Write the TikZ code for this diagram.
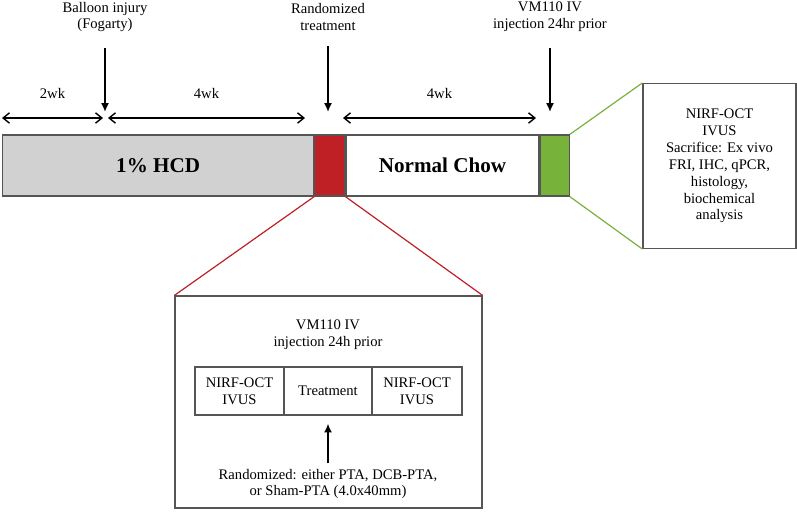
\documentclass[tikz,border=0pt]{standalone}
\usepackage{fontspec}
\setmainfont{Liberation Serif}
\usetikzlibrary{arrows.meta}
\definecolor{hcdgray}{RGB}{209,209,209}
\definecolor{treatred}{RGB}{190,32,38}
\definecolor{vmgreen}{RGB}{119,179,58}
\definecolor{edgegray}{RGB}{85,85,85}
\tikzset{
	lbl/.style={align=center, font=\fontsize{10.4}{12}\selectfont, inner sep=1pt},
	seg/.style={draw=edgegray, line width=0.3mm, inner sep=0, minimum height=15.25mm, anchor=west},
	infobox/.style={draw=edgegray, line width=0.3mm, inner sep=0, align=center, font=\fontsize{10.4}{12}\selectfont},
	vert/.style={line width=0.45mm, -{Latex[length=2.2mm, width=2mm]}},
	span/.style={line width=0.35mm, {Straight Barb[length=1.6mm, width=2.6mm]}-{Straight Barb[length=1.6mm, width=2.6mm]}},
}

\begin{document}
\begin{tikzpicture}[x=0.25mm, y=-0.25mm]
			%%%%% START %%%%%
			\useasboundingbox (0, 0) rectangle (797, 511);
			
			% timeline bar
			\node[seg, fill=hcdgray, minimum width=77.75mm, font=\fontsize{15}{18}\selectfont\bfseries] (hcd) at (2, 165.5) {1\% HCD};
			\node[seg, fill=treatred, minimum width=7.5mm] (rand) at (hcd.east) {};
			\node[seg, fill=white, minimum width=48.25mm, font=\fontsize{15}{18}\selectfont\bfseries] (chow) at (rand.east) {Normal Chow};
			\node[seg, fill=vmgreen, minimum width=7.25mm] (vm) at (chow.east) {};
			
			% events
			\node[lbl] (balloon) at (105, 17) {Balloon injury\\(Fogarty)};
			\node[lbl] (randtr) at (328, 17) {Randomized\\treatment};
			\node[lbl] (vminj) at (550, 17) {VM110 IV\\injection 24hr prior};
			
			\coordinate (inj) at (105, 112);
			\coordinate (trt) at (328, 112);
			\coordinate (img) at (550, 112);
			\draw[vert] (balloon.south) ++(0, 14) -- (inj);
			\draw[vert] (randtr.south) ++(0, 14) -- (trt);
			\draw[vert] (vminj.south) ++(0, 14) -- (img);
			
			% durations
			\coordinate (t0) at (2, 118);
			\coordinate (t1) at (103, 118);
			\coordinate (t2) at (108, 118);
			\coordinate (t3) at (305, 118);
			\coordinate (t4) at (343, 118);
			\coordinate (t5) at (536, 118);
			\draw[span] (t0) -- node[lbl, yshift=6.25mm] (wkA) {2wk} (t1);
			\draw[span] (t2) -- node[lbl, yshift=6.25mm] (wkB) {4wk} (t3);
			\draw[span] (t4) -- node[lbl, yshift=6.25mm] (wkC) {4wk} (t5);
			
			% sacrifice box
			\node[infobox, minimum width=38.25mm, minimum height=41.25mm] (res) at (719.5, 166) {NIRF-OCT\\IVUS\\Sacrifice: Ex vivo\\FRI, IHC, qPCR,\\histology,\\biochemical\\analysis};
			\draw[vmgreen, line width=0.3mm] (vm.north east) -- (res.north west);
			\draw[vmgreen, line width=0.3mm] (vm.south east) -- (res.south west);
			
			% treatment box
			\node[infobox, minimum width=76.75mm, minimum height=53mm] (proc) at (328.5, 402) {};
			\draw[treatred, line width=0.3mm] (rand.south west) -- (proc.north west);
			\draw[treatred, line width=0.3mm] (rand.south east) -- (proc.north east);
			
			\node[lbl] (vmtxt) at (328, 335) {VM110 IV\\injection 24h prior};
			\node[infobox, minimum width=22.25mm, minimum height=12mm] (pre) at (239.5, 391) {NIRF-OCT\\IVUS};
			\node[infobox, minimum width=22mm, minimum height=12mm] (treat) at (328, 391) {Treatment};
			\node[infobox, minimum width=22.5mm, minimum height=12mm] (post) at (417, 391) {NIRF-OCT\\IVUS};
			\node[lbl] (arms) at (328, 484) {Randomized: either PTA, DCB-PTA,\\or Sham-PTA (4.0x40mm)};
			\draw[vert, shorten >=2mm, shorten <=1mm] (arms.north) -- (treat.south);
			
			%%%%% END %%%%%
\end{tikzpicture}
\end{document}
